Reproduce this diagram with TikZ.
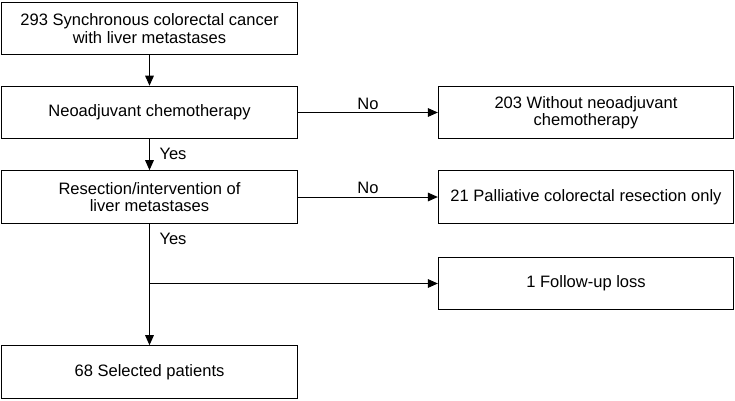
\documentclass[tikz,border=0pt]{standalone}
\usepackage{fontspec}
\setmainfont{Liberation Sans}
\usetikzlibrary{arrows.meta}
\tikzset{
	box/.style={draw, line width=0.75pt, minimum width=221.5pt, minimum height=39.5pt, align=center, inner sep=2pt, font=\fontsize{12.4}{12.9}\selectfont},
	flow/.style={line width=0.75pt, -{Triangle[length=7.5pt, width=6.5pt]}},
	lab/.style={font=\fontsize{12.4}{12.9}\selectfont}
}
\begin{document}
\begin{tikzpicture}[x=0.75pt,y=0.75pt,yscale=-1,xscale=1]
\useasboundingbox (0,0) rectangle (735,400);

% left column
\node [box] (total) at (149.5,28.5) {293 Synchronous colorectal cancer\\with liver metastases};
\node [box] (neo) at (149.5,112.5) {Neoadjuvant chemotherapy};
\node [box] (resect) at (149.5,197) {Resection/intervention of\\liver metastases};
\node [box] (sel) at (149.5,372) {68 Selected patients};

% right column
\node [box] (noneo) at (586,112.5) {203 Without neoadjuvant\\chemotherapy};
\node [box] (pall) at (586,197) {21 Palliative colorectal resection only};
\node [box] (loss) at (586,283.5) {1 Follow-up loss};

\coordinate (split) at (149.5,283.5);

\draw [flow] (total) -- (neo);
\draw [flow] (neo) -- (resect);
\draw [flow] (resect) -- (sel);
\draw [flow] (neo) -- (noneo);
\draw [flow] (resect) -- (pall);
\draw [flow] (split) -- (loss);

\node [lab] (no1) at (368,104) {No};
\node [lab] (no2) at (368,188) {No};
\node [lab] (yes1) at (173,154) {Yes};
\node [lab] (yes2) at (173,239) {Yes};

\end{tikzpicture}
\end{document}
